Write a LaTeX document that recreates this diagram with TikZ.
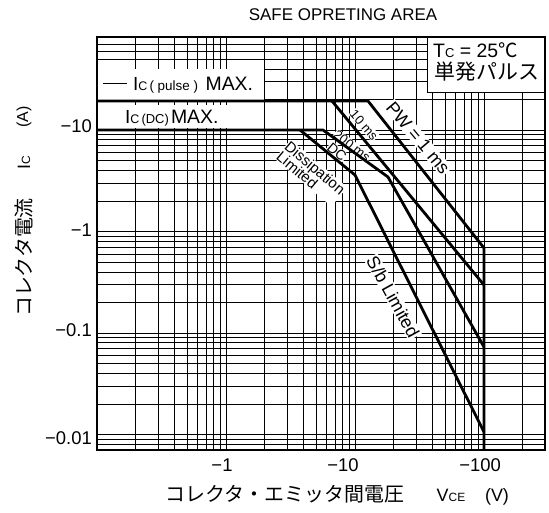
\documentclass[tikz,border=0pt]{standalone}
\usepackage{fontspec}
\setmainfont{Liberation Sans}
\newfontfamily\jp{Noto Sans CJK JP}
\newcommand\myfs[1]{\fontsize{#1}{#1}\selectfont}
\tikzset{
  gridln/.style={line width=0.75bp, black},
  curve/.style={line width=2.8bp, line join=round},
  lbl/.style={inner sep=1bp, fill=white},
  plain/.style={inner sep=0pt},
}
\begin{document}
\begin{tikzpicture}[x=1bp,y=-1bp]
\useasboundingbox (0,0) rectangle (549,513);
% vertical grid (V from 0.1 to 300, log)
\foreach \e in {-1,0,1,2}{
  \foreach \k in {1,...,9}{
    \pgfmathsetmacro\xx{97+129*(\e+log10(\k)+1)}
    \pgfmathtruncatemacro\ok{\xx<544}
    \ifnum\ok=1 \draw[gridln] (\xx,37) -- (\xx,450); \fi
  }}
% horizontal grid (I, log)
\foreach \e in {-3,...,1}{
  \foreach \k in {1,...,9}{
    \pgfmathsetmacro\yy{130+101.5*(1-\e-log10(\k))}
    \pgfmathtruncatemacro\ok{and(\yy>38.5,\yy<449)}
    \ifnum\ok=1 \draw[gridln] (97,\yy) -- (545,\yy); \fi
  }}
% white label areas
\fill[white] (98,69) rectangle (264,100);
\fill[white] (98,105) rectangle (228,128);
\draw[line width=0.9bp, fill=white] (427,37) rectangle (545,92);
% frame
\draw[line width=1.3bp] (97,37) rectangle (545,450);

% title
\node[plain, anchor=base] (title) at (343,21) {\myfs{17}SAFE OPRETING AREA};

% in-plot texts
\coordinate (dashA) at (103,83);
\coordinate (dashB) at (127,83);
\draw[line width=0.8bp] (dashA) -- (dashB);
\node[plain, anchor=base west] (icp) at (133,91)
  {\myfs{19}I\myfs{12.5}C\,\myfs{13.5}( pulse )\ \ \myfs{19.5}MAX.};
\node[plain, anchor=base west] (icdc) at (125,124)
  {\myfs{19}I\myfs{12.5}C\,\myfs{13}(DC)\,\myfs{19.5}MAX.};
\node[plain, anchor=base west] (tc) at (433,58)
  {\myfs{19.5}T\myfs{13}C\myfs{19.5}\ = 25{\jp ℃}};
\node[plain, anchor=base] (tan) at (487,80) {\jp\myfs{21}単発パルス};

% rotated curve labels
\node[lbl, rotate=-50] (pw) at (418,138) {\myfs{18}PW = 1 ms};
\node[lbl, rotate=-49, inner sep=0.5bp] (l10) at (364,125) {\myfs{13}10 ms};
\node[lbl, rotate=-38, inner sep=0.5bp] (l200) at (352,146) {\myfs{13}200 ms};
\node[lbl, rotate=-40, inner sep=0.5bp] (ldc) at (337,152) {\myfs{14}DC};
\node[lbl, rotate=-40, align=left, inner sep=0.5bp] (ldis) at (311,173)
  {\myfs{15}Dissipation\\[-2bp]\myfs{15}Limited};
\node[lbl, rotate=-61] (lsb) at (393,297) {\myfs{18}S/b Limited};

% curves
\coordinate (pL) at (97,101);
\coordinate (p10) at (332,101);
\coordinate (p1) at (368,101);
\coordinate (dL) at (97,130);
\coordinate (dDC) at (300,130);
\coordinate (d200) at (323,130);
\coordinate (k200) at (388,177);
\coordinate (kDC) at (355,175);
\coordinate (e1) at (484,248);
\coordinate (e10) at (484,285);
\coordinate (e200) at (484,347);
\coordinate (eDC) at (484,432);
\coordinate (eB) at (484,450);
\draw[curve] (pL) -- (p1) -- (e1) -- (eB);
\draw[curve] (p10) -- (e10);
\draw[curve] (dL) -- (d200) -- (k200) -- (e200);
\draw[curve] (dDC) -- (kDC) -- (eDC);

% y tick labels
\node[plain, anchor=east] (y10) at (92,126) {\myfs{18.5}−10};
\node[plain, anchor=east] (y1) at (92,230) {\myfs{18.5}−1};
\node[plain, anchor=east] (y01) at (92,330) {\myfs{18.5}−0.1};
\node[plain, anchor=east] (y001) at (92,438) {\myfs{18.5}−0.01};
% x tick labels
\node[plain, anchor=base] (x1) at (222,471) {\myfs{18.5}−1};
\node[plain, anchor=base] (x10) at (343,471) {\myfs{18.5}−10};
\node[plain, anchor=base] (x100) at (480,471) {\myfs{18.5}−100};

% axis titles
\node[plain, rotate=90] (yjp) at (24,257.5) {\jp\myfs{20}コレクタ電流};
\node[plain, rotate=90] (yic) at (24,163) {\myfs{18}I\myfs{12}C};
\node[plain, rotate=90] (ya) at (24,117) {\myfs{16}(A)};
\node[plain, anchor=base] (xjp) at (285,501) {\jp\myfs{20}コレクタ・エミッタ間電圧};
\node[plain, anchor=base] (xvce) at (451,501) {\myfs{18}V\myfs{12}CE};
\node[plain, anchor=base] (xv) at (497,501) {\myfs{18}(V)};
\end{tikzpicture}
\end{document}
